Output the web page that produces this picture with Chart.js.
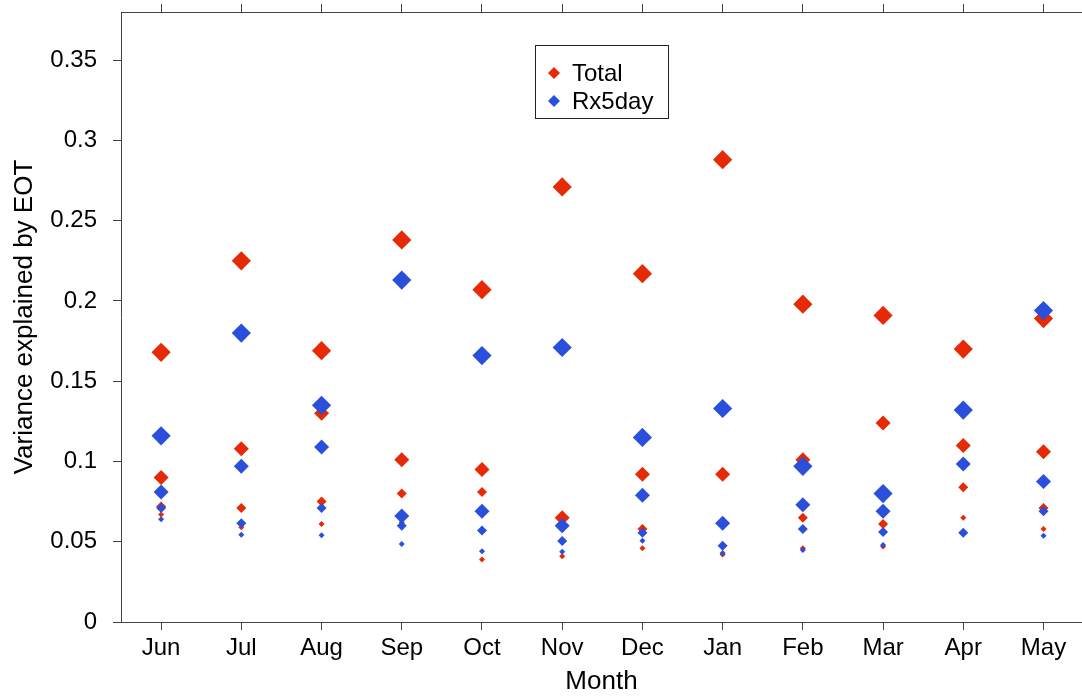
<!DOCTYPE html>
<html lang="en">
<head>
  <meta charset="UTF-8" />
  <title>Variance explained by EOT</title>
  <script src="https://cdn.jsdelivr.net/npm/chart.js"></script>
  <style>
    html, body { margin: 0; padding: 0; background: #fff; }
    #wrap { width: 1082px; height: 697px; }
  </style>
</head>
<body>
  <div id="wrap"><canvas id="eotChart"></canvas></div>

  <script>
    const months = ['Jun', 'Jul', 'Aug', 'Sep', 'Oct', 'Nov', 'Dec', 'Jan', 'Feb', 'Mar', 'Apr', 'May'];
    const yTicks = [0, 0.05, 0.1, 0.15, 0.2, 0.25, 0.3, 0.35];
    const seriesNames = ['Total', 'Rx5day'];

    // Total: leading EOTs 1..4 per month
    const totalEot1 = [0.168, 0.225, 0.169, 0.238, 0.207, 0.271, 0.217, 0.288, 0.198, 0.191, 0.170, 0.189];
    const totalEot2 = [0.090, 0.108, 0.130, 0.101, 0.095, 0.065, 0.092, 0.092, 0.101, 0.124, 0.110, 0.106];
    const totalEot3 = [0.072, 0.071, 0.075, 0.080, 0.081, 0.059, 0.058, 0.061, 0.065, 0.061, 0.084, 0.071];
    const totalEot4 = [0.067, 0.059, 0.061, 0.062, 0.039, 0.041, 0.046, 0.042, 0.046, 0.047, 0.065, 0.058];

    // Rx5day: leading EOTs 1..4 per month
    const rx5Eot1 = [0.116, 0.180, 0.135, 0.213, 0.166, 0.171, 0.115, 0.133, 0.097, 0.080, 0.132, 0.194];
    const rx5Eot2 = [0.081, 0.097, 0.109, 0.066, 0.069, 0.060, 0.079, 0.0615, 0.073, 0.069, 0.0985, 0.0875];
    const rx5Eot3 = [0.071, 0.0615, 0.071, 0.060, 0.057, 0.0505, 0.0556, 0.0475, 0.058, 0.056, 0.0556, 0.069];
    const rx5Eot4 = [0.064, 0.0544, 0.054, 0.0486, 0.044, 0.0437, 0.0506, 0.043, 0.0448, 0.048, 0.0553, 0.0538];

    const RED = '#e52a05';
    const BLUE = '#2a4fdb';
    const AXIS = '#444';
    const FONT = { family: '"Liberation Sans", Arial, sans-serif', size: 24 };
    const TITLE_FONT = { family: FONT.family, size: 26 };
    const eotRadius = [9.6, 7.5, 5, 3];

    function eotDataset(name, values, eot, color, order) {
      return {
        label: name + ' EOT' + (eot + 1),
        data: values.map((v, i) => ({ x: i + 1, y: v })),
        backgroundColor: color,
        borderWidth: 0,
        pointStyle: 'rectRot',
        pointRadius: eotRadius[eot],
        pointHoverRadius: eotRadius[eot],
        order: order
      };
    }

    const datasets = [];
    [totalEot1, totalEot2, totalEot3, totalEot4].forEach((vals, k) => datasets.push(eotDataset(seriesNames[0], vals, k, RED, 1)));
    [rx5Eot1, rx5Eot2, rx5Eot3, rx5Eot4].forEach((vals, k) => datasets.push(eotDataset(seriesNames[1], vals, k, BLUE, 0)));

    // legend box drawn inside the plot, like the original
    const boxLegend = {
      id: 'boxLegend',
      afterDraw(chart) {
        const ctx = chart.ctx;
        const x = 535.5, y = 45.5, w = 133, h = 73;
        ctx.save();
        ctx.fillStyle = '#fff';
        ctx.fillRect(x, y, w, h);
        ctx.strokeStyle = '#222';
        ctx.lineWidth = 1;
        ctx.strokeRect(x, y, w, h);
        ctx.font = FONT.size + 'px ' + FONT.family;
        ctx.textBaseline = 'middle';
        [[seriesNames[0], RED], [seriesNames[1], BLUE]].forEach(([name, color], i) => {
          const cy = 73 + i * 28;
          ctx.fillStyle = color;
          ctx.beginPath();
          ctx.moveTo(554 - 6, cy);
          ctx.lineTo(554, cy - 6);
          ctx.lineTo(554 + 6, cy);
          ctx.lineTo(554, cy + 6);
          ctx.closePath();
          ctx.fill();
          ctx.fillStyle = '#000';
          ctx.fillText(name, 572, cy + 1);
        });
        ctx.restore();
      }
    };

    const monthTicks = scale => { scale.ticks = months.map((m, i) => ({ value: i + 1 })); };
    const tickGrid = { drawOnChartArea: false, drawTicks: true, tickLength: 8, color: AXIS, tickColor: AXIS };
    const noSidePad = s => { s.paddingLeft = 0; s.paddingRight = 0; };

    new Chart(document.getElementById('eotChart'), {
      type: 'scatter',
      data: { datasets },
      options: {
        responsive: true,
        maintainAspectRatio: false,
        animation: false,
        layout: { padding: 0, autoPadding: false },
        plugins: { legend: { display: false }, tooltip: { enabled: false } },
        scales: {
          x: {
            type: 'linear', position: 'bottom', min: 0.5, max: 12.48,
            afterBuildTicks: monthTicks,
            afterFit: s => { s.height = 75; noSidePad(s); },
            ticks: { font: FONT, color: '#000', padding: 4, maxRotation: 0, callback: v => months[v - 1] },
            grid: tickGrid,
            border: { display: true, color: AXIS, width: 1 },
            title: { display: true, text: 'Month', font: TITLE_FONT, color: '#000', padding: { top: 0, bottom: 0 } }
          },
          x2: {
            type: 'linear', position: 'top', min: 0.5, max: 12.48,
            afterBuildTicks: monthTicks,
            afterFit: s => { s.height = 12; noSidePad(s); },
            ticks: { display: false },
            grid: tickGrid,
            border: { display: true, color: AXIS, width: 1 }
          },
          y: {
            type: 'linear', position: 'left', min: 0, max: 0.38,
            afterBuildTicks: s => { s.ticks = yTicks.map(v => ({ value: v })); },
            afterFit: s => { s.width = 121; s.paddingTop = 0; s.paddingBottom = 0; },
            ticks: { font: FONT, color: '#000', padding: 16, callback: v => String(parseFloat(v.toFixed(2))) },
            grid: tickGrid,
            border: { display: true, color: AXIS, width: 1 },
            title: { display: true, text: 'Variance explained by EOT', font: TITLE_FONT, color: '#000', padding: { top: 9, bottom: 0 } }
          }
        }
      },
      plugins: [boxLegend]
    });
  </script>
</body>
</html>
